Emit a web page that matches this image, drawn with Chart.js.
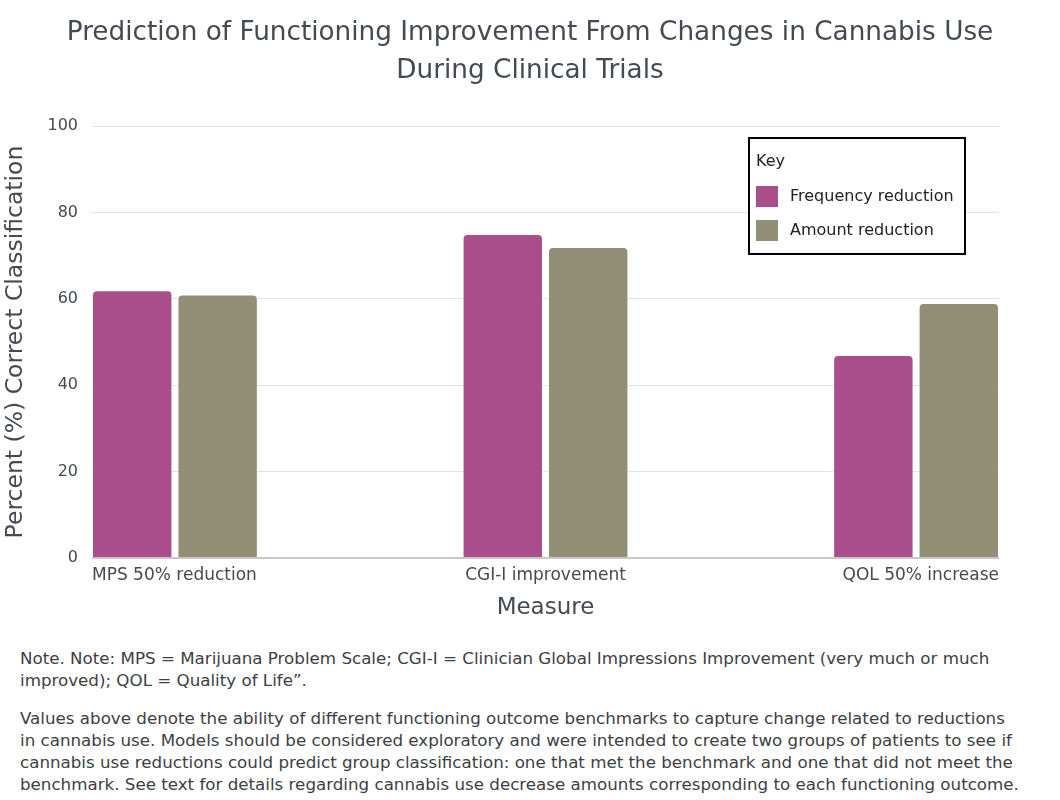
<!DOCTYPE html>
<html>
<head>
<meta charset="utf-8">
<script src="https://cdn.jsdelivr.net/npm/chart.js@4.4.1/dist/chart.umd.min.js"></script>
<style>
  body { margin: 0; background: #fff; font-family: "DejaVu Sans", sans-serif; }
  #wrap { width: 1060px; height: 630px; }
  .note { margin: 17px 0 0 20px; color: #3c4043; font-size: 16.7px; line-height: 22px; white-space: nowrap; }
  .note p { margin: 0 0 16px 0; }
</style>
</head>
<body>
<div id="wrap"><canvas id="myChart" width="1060" height="630"></canvas></div>
<div class="note">
  <p>Note. Note: MPS = Marijuana Problem Scale; CGI-I = Clinician Global Impressions Improvement (very much or much<br>improved); QOL = Quality of Life”.</p>
  <p>Values above denote the ability of different functioning outcome benchmarks to capture change related to reductions<br>in cannabis use. Models should be considered exploratory and were intended to create two groups of patients to see if<br>cannabis use reductions could predict group classification: one that met the benchmark and one that did not meet the<br>benchmark. See text for details regarding cannabis use decrease amounts corresponding to each functioning outcome.</p>
</div>
<script>
var categories = ['MPS 50% reduction', 'CGI-I improvement', 'QOL 50% increase'];
var frequencyReduction = [62, 75, 47];
var amountReduction = [61, 72, 59];
var yTicks = [0, 20, 40, 60, 80, 100];

var textColor = '#434a52';
var catPct = 0.461;
var barPct = 0.9415;
// half of a bar group, in category units, so the outer groups sit flush with the plot edges
var edge = catPct * (1 + barPct) / 4;

function toPoints(values) {
    return values.map(function (v, i) { return { x: i, y: v }; });
}

// draw the boxed "Key" legend in the top right of the plot
var keyBox = {
    id: 'keyBox',
    afterDraw: function (chart) {
        var ctx = chart.ctx;
        var area = chart.chartArea;
        var left = area.right - 250, top = area.top + 12, w = 216, h = 116;
        ctx.save();
        ctx.fillStyle = '#fff';
        ctx.fillRect(left, top, w, h);
        ctx.strokeStyle = '#000';
        ctx.lineWidth = 2;
        ctx.strokeRect(left, top, w, h);
        ctx.font = '16px "DejaVu Sans"';
        ctx.textBaseline = 'middle';
        ctx.fillStyle = '#222';
        ctx.fillText('Key', left + 7, top + 24);
        chart.data.datasets.forEach(function (ds, i) {
            var y = top + 58 + i * 34;
            ctx.fillStyle = ds.backgroundColor;
            ctx.fillRect(left + 7, y - 10, 22, 21);
            ctx.fillStyle = '#222';
            ctx.fillText(ds.label, left + 41, y + 1);
        });
        ctx.restore();
    }
};

// centre the title over the whole canvas, not just the padded area
var centreTitle = {
    id: 'centreTitle',
    afterLayout: function (chart) {
        var t = chart.titleBlock;
        if (t) { t.left = 0; t.right = chart.width; t.width = chart.width; }
    }
};

var ctx = document.getElementById('myChart').getContext('2d');
var chart = new Chart(ctx, {
    type: 'bar',
    data: {
        labels: categories,
        datasets: [{
            label: 'Frequency reduction',
            data: toPoints(frequencyReduction),
            backgroundColor: '#aa4e8b',
            borderColor: 'rgba(255,255,255,0.5)',
            borderWidth: 1,
            borderRadius: { topLeft: 5, topRight: 5 },
            borderSkipped: 'bottom',
            xAxisID: 'xb'
        }, {
            label: 'Amount reduction',
            data: toPoints(amountReduction),
            backgroundColor: '#938f77',
            borderColor: 'rgba(255,255,255,0.5)',
            borderWidth: 1,
            borderRadius: { topLeft: 5, topRight: 5 },
            borderSkipped: 'bottom',
            xAxisID: 'xb'
        }]
    },
    options: {
        responsive: false,
        animation: false,
        categoryPercentage: catPct,
        barPercentage: barPct,
        layout: { padding: { left: 0, right: 61, top: 0, bottom: 6 } },
        plugins: {
            legend: { display: false },
            tooltip: { enabled: false },
            title: {
                display: true,
                text: ['Prediction of Functioning Improvement From Changes in Cannabis Use', 'During Clinical Trials'],
                color: textColor,
                font: { family: 'DejaVu Sans', size: 26.3, weight: 'normal', lineHeight: 1.445 },
                padding: { top: 14, bottom: 36 }
            }
        },
        scales: {
            x: {
                type: 'category',
                offset: false,
                grid: { display: false, drawTicks: false },
                border: { display: false },
                ticks: { align: 'inner', color: textColor, padding: 7, maxRotation: 0, font: { family: 'DejaVu Sans', size: 17 } },
                title: { display: true, text: 'Measure', color: textColor, padding: { top: 2, bottom: 2 }, font: { family: 'DejaVu Sans', size: 23 } }
            },
            xb: {
                type: 'linear',
                axis: 'x',
                display: false,
                offset: false,
                grid: { offset: false },
                min: -edge,
                max: categories.length - 1 + edge,
                afterBuildTicks: function (scale) {
                    scale.ticks = categories.map(function (c, i) { return { value: i }; });
                }
            },
            y: {
                min: 0,
                max: 100,
                afterBuildTicks: function (scale) {
                    scale.ticks = yTicks.map(function (v) { return { value: v }; });
                },
                afterFit: function (scale) { scale.width = 92; },
                grid: {
                    drawTicks: false,
                    color: function (c) { return c.tick && c.tick.value === 0 ? '#c8c8c8' : '#e2e2e2'; },
                    lineWidth: function (c) { return c.tick && c.tick.value === 0 ? 2 : 1; }
                },
                border: { display: false },
                ticks: { color: textColor, padding: 14, font: { family: 'DejaVu Sans', size: 16 } },
                title: { display: true, text: 'Percent (%) Correct Classification', color: textColor, padding: { top: 2, bottom: 0 }, font: { family: 'DejaVu Sans', size: 23.5 } }
            }
        }
    },
    plugins: [keyBox, centreTitle]
});
</script>
</body>
</html>
